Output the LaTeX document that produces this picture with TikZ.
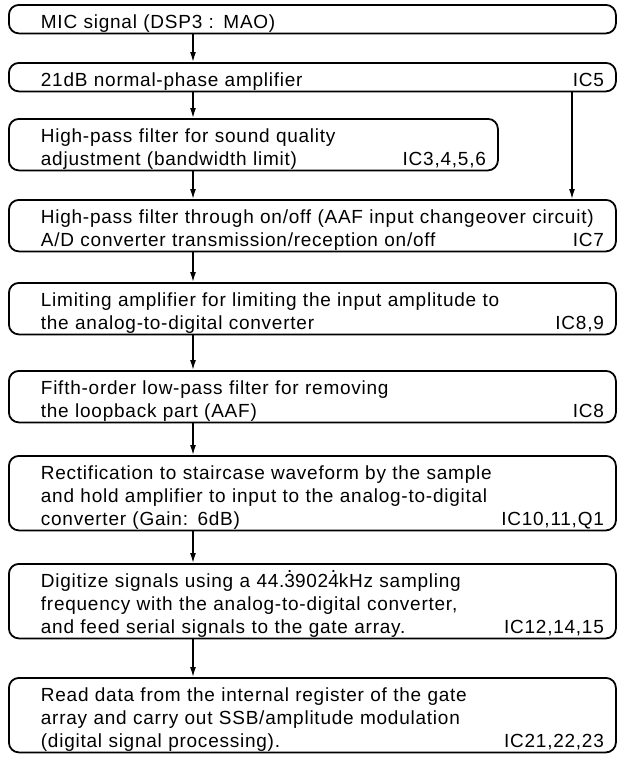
\documentclass[tikz,border=0pt]{standalone}
\usepackage{fontspec}
\setmainfont{Liberation Sans}[LetterSpace=4,Ligatures=NoCommon]
\usetikzlibrary{arrows.meta}
\newcommand{\rdot}[1]{\ooalign{#1\cr\hidewidth\raisebox{0.8em}{.}\hidewidth\cr}}

\begin{document}
\begin{tikzpicture}[x=0.5pt,y=-0.5pt,>={Latex[length=5pt,width=3pt]},
   font=\fontsize{9.5pt}{11.5pt}\selectfont,
   stepbox/.style={draw,line width=0.9pt,rounded corners=5pt,anchor=north west,
     inner xsep=6pt,inner ysep=0pt,text width=291.5pt,align=left,text height=12pt,
     execute at begin node={\leftskip=10pt}},
   onel/.style={text depth=2.25pt},
   twol/.style={text depth=13.75pt},
   threel/.style={text depth=25.25pt},
   flow/.style={->,line width=0.7pt}]
  \useasboundingbox (0,0) rectangle (622,760);
  \coordinate (main) at (193,0);
  \coordinate (side) at (572,0);

  \node[stepbox,onel] (mic) at (8,4) {MIC signal (DSP3 : MAO)};
  \node[stepbox,onel] (amp) at (8,62) {21dB normal-phase amplifier\hfill IC5};
  \node[stepbox,twol,text width=232.5pt] (hpf) at (8,118)
    {High-pass filter for sound quality\\adjustment (bandwidth limit)\hfill IC3,4,5,6};
  \node[stepbox,twol] (hpon) at (8,199)
    {High-pass filter through on/off (AAF input changeover circuit)\\A/D converter transmission/reception on/off\hfill IC7};
  \node[stepbox,twol] (lim) at (8,282)
    {Limiting amplifier for limiting the input amplitude to\\the analog-to-digital converter\hfill IC8,9};
  \node[stepbox,twol] (lpf) at (8,370)
    {Fifth-order low-pass filter for removing\\the loopback part (AAF)\hfill IC8};
  \node[stepbox,threel] (sah) at (8,455)
    {Rectification to staircase waveform by the sample\\and hold amplifier to input to the analog-to-digital\\converter (Gain: 6dB)\hfill IC10,11,Q1};
  \node[stepbox,threel] (adc) at (8,563)
    {Digitize signals using a 44.\rdot{3}902\rdot{4}kHz sampling\\frequency with the analog-to-digital converter,\\and feed serial signals to the gate array.\hfill IC12,14,15};
  \node[stepbox,threel] (dsp) at (8,677)
    {Read data from the internal register of the gate\\array and carry out SSB/amplitude modulation\\(digital signal processing).\hfill IC21,22,23};

  \draw[flow] (mic.south -| main) -- (amp.north -| main);
  \draw[flow] (amp.south -| main) -- (hpf.north -| main);
  \draw[flow] (hpf.south -| main) -- (hpon.north -| main);
  \draw[flow] (amp.south -| side) -- (hpon.north -| side);
  \draw[flow] (hpon.south -| main) -- (lim.north -| main);
  \draw[flow] (lim.south -| main) -- (lpf.north -| main);
  \draw[flow] (lpf.south -| main) -- (sah.north -| main);
  \draw[flow] (sah.south -| main) -- (adc.north -| main);
  \draw[flow] (adc.south -| main) -- (dsp.north -| main);
\end{tikzpicture}
\end{document}
